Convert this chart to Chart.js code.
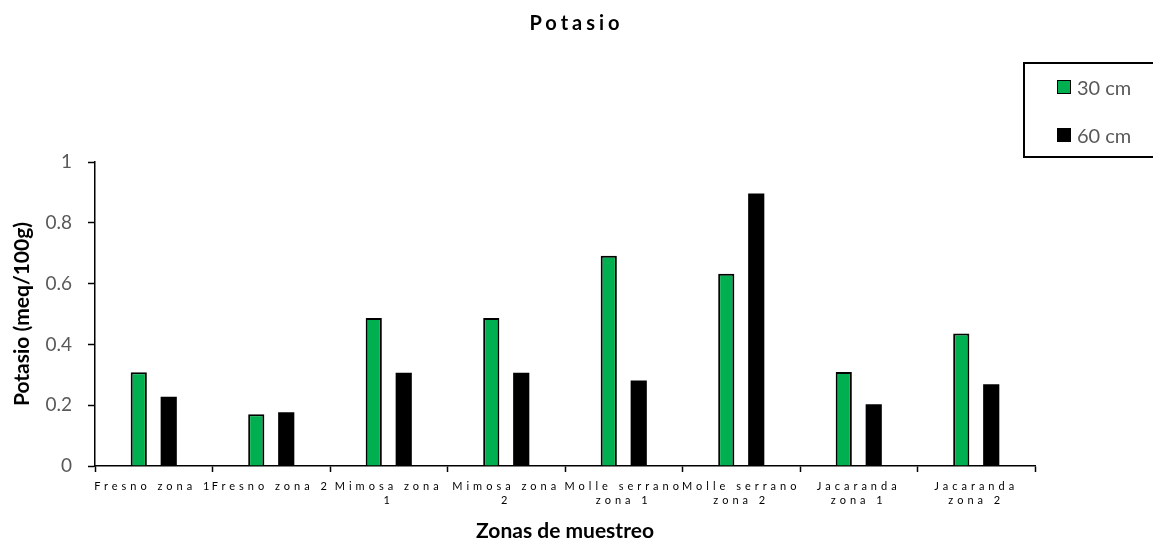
<!DOCTYPE html>
<html>
<head>
<meta charset="utf-8">
<script src="https://cdn.jsdelivr.net/npm/chart.js@4"></script>
<style>
  html, body { margin: 0; padding: 0; background: #fff; overflow: hidden; }
  #wrap { position: relative; width: 1153px; height: 540px; }
  #legend {
    position: absolute; left: 1023px; top: 62px; width: 150px; height: 96px;
    border: 2px solid #000; box-sizing: border-box; font-family: Lato, sans-serif;
  }
  .item { position: absolute; left: 32px; display: flex; align-items: center; font-size: 20px; color: #595959; line-height: 14px; }
  .sw { width: 14px; height: 14px; box-sizing: border-box; margin-right: 6px; }
</style>
</head>
<body>
<div id="wrap">
  <canvas id="potasioChart" width="1153" height="540"></canvas>
  <div id="legend"></div>
</div>
<script>
// datos
const zonas = [
  "Fresno zona 1",
  "Fresno zona 2",
  ["Mimosa zona", "1"],
  ["Mimosa zona", "2"],
  ["Molle serrano", "zona 1"],
  ["Molle serrano", "zona 2"],
  ["Jacaranda", "zona 1"],
  ["Jacaranda", "zona 2"],
];
const potasio30 = [0.308, 0.17, 0.487, 0.487, 0.692, 0.632, 0.309, 0.436];
const potasio60 = [0.228, 0.177, 0.307, 0.307, 0.281, 0.896, 0.203, 0.269];

Chart.defaults.font.family = "Lato, sans-serif";

// letter spacing for the title and the category labels
const espaciado = {
  id: "espaciado",
  afterLayout(chart) {
    const x = chart.scales.x;
    if (!x._spaced) {
      const drawLabels = x.drawLabels.bind(x);
      x.drawLabels = function (area) {
        chart.ctx.save();
        chart.ctx.letterSpacing = "4px";
        drawLabels(area);
        chart.ctx.restore();
      };
      x._spaced = true;
    }
    const t = chart.titleBlock;
    if (t && !t._spaced) {
      const draw = t.draw.bind(t);
      t.draw = function () {
        chart.ctx.save();
        chart.ctx.letterSpacing = "4px";
        draw();
        chart.ctx.restore();
      };
      t._spaced = true;
    }
  },
};

const data = {
  labels: zonas,
  datasets: [
    {
      label: "30 cm",
      data: potasio30,
      backgroundColor: "#00B050",
      borderColor: "#000",
      borderWidth: 2,
      categoryPercentage: 0.51,
      barPercentage: 0.54,
    },
    {
      label: "60 cm",
      data: potasio60,
      backgroundColor: "#000",
      borderColor: "#000",
      borderWidth: 0,
      categoryPercentage: 0.51,
      barPercentage: 0.54,
    },
  ],
};

const config = {
  type: "bar",
  data: data,
  plugins: [espaciado],
  options: {
    responsive: false,
    animation: false,
    layout: { padding: 0 },
    plugins: {
      legend: { display: false },
      tooltip: { enabled: false },
      title: {
        display: true,
        text: "Potasio",
        color: "#000",
        font: { size: 20, weight: "bold", lineHeight: 1.2 },
        padding: { top: 12, bottom: 126 },
      },
    },
    scales: {
      x: {
        grid: {
          display: true,
          drawOnChartArea: false,
          offset: true,
          tickLength: 6,
          tickColor: "#000",
          tickWidth: 1.5,
        },
        border: { color: "#000", width: 1.5 },
        ticks: {
          autoSkip: false,
          maxRotation: 0,
          minRotation: 0,
          color: "#000",
          padding: 7,
          font: { size: 11, lineHeight: 1.32 },
        },
        title: {
          display: true,
          text: "Zonas de muestreo",
          color: "#000",
          font: { size: 21, weight: "bold", lineHeight: 0.8 },
          padding: { top: 0, bottom: 0 },
        },
        afterFit(scale) {
          scale.height = 74;
        },
      },
      y: {
        min: 0,
        max: 1,
        ticks: {
          stepSize: 0.2,
          color: "#595959",
          padding: 16,
          font: { size: 19 },
          callback: (v) => String(+v.toFixed(1)),
        },
        grid: {
          display: true,
          drawOnChartArea: false,
          tickLength: 7,
          tickColor: "#000",
          tickWidth: 1.5,
        },
        border: { color: "#000", width: 1.5 },
        title: {
          display: true,
          text: "Potasio (meq/100g)",
          color: "#000",
          font: { size: 21, weight: "bold", lineHeight: 1.2 },
          padding: { top: 10, bottom: 0 },
        },
        afterFit(scale) {
          scale.width = 95;
        },
      },
      // empty space on the right where the legend sits
      derecha: {
        position: "right",
        display: true,
        grid: { display: false },
        border: { display: false },
        ticks: { display: false },
        afterFit(scale) {
          scale.width = 118;
        },
      },
    },
  },
};

const ctx = document.getElementById("potasioChart").getContext("2d");
const chart = new Chart(ctx, config);

// legend built from the datasets
const legend = document.getElementById("legend");
chart.data.datasets.forEach((ds, i) => {
  const item = document.createElement("div");
  item.className = "item";
  item.style.top = (16 + i * 48) + "px";
  const sw = document.createElement("span");
  sw.className = "sw";
  sw.style.background = ds.backgroundColor;
  sw.style.border = ds.borderWidth ? "1.5px solid " + ds.borderColor : "none";
  item.appendChild(sw);
  item.appendChild(document.createTextNode(ds.label));
  legend.appendChild(item);
});
</script>
</body>
</html>
